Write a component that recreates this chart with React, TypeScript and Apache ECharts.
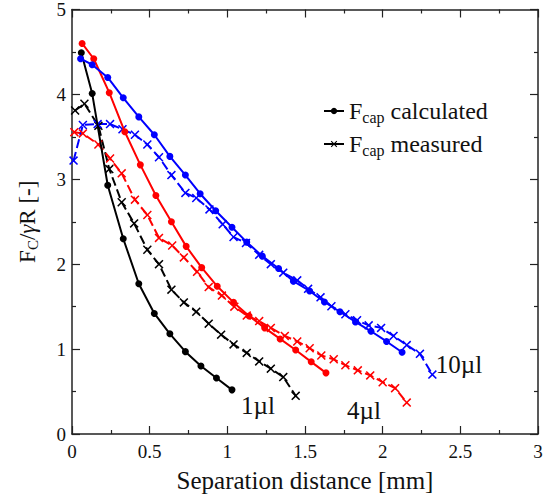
import React, { useEffect, useRef } from "react";
import * as echarts from "echarts";

const blackCalcX = [0.06, 0.13, 0.23, 0.33, 0.43, 0.53, 0.63, 0.73, 0.83, 0.93, 1.03];
const blackCalcY = [4.49, 4.01, 2.93, 2.3, 1.77, 1.42, 1.18, 0.97, 0.8, 0.66, 0.52];

const blackMeasX = [0.02, 0.08, 0.17, 0.24, 0.32, 0.4, 0.485, 0.56, 0.64, 0.72, 0.8, 0.88, 0.96, 1.04, 1.125, 1.205, 1.28, 1.36, 1.44];
const blackMeasY = [3.81, 3.89, 3.63, 3.12, 2.73, 2.48, 2.17, 2.0, 1.7, 1.55, 1.44, 1.3, 1.17, 1.055, 0.955, 0.855, 0.77, 0.67, 0.45];

const redCalcX = [0.065, 0.14, 0.24, 0.34, 0.44, 0.54, 0.64, 0.735, 0.835, 0.935, 1.04, 1.14, 1.24, 1.34, 1.44, 1.54, 1.635];
const redCalcY = [4.6, 4.42, 4.02, 3.56, 3.17, 2.81, 2.5, 2.21, 1.96, 1.74, 1.55, 1.39, 1.25, 1.12, 0.99, 0.85, 0.72];

const redMeasX = [0.015, 0.07, 0.17, 0.245, 0.32, 0.405, 0.485, 0.56, 0.645, 0.72, 0.805, 0.88, 0.965, 1.045, 1.125, 1.205, 1.28, 1.37, 1.45, 1.53, 1.605, 1.685, 1.76, 1.84, 1.92, 2.0, 2.08, 2.155];
const redMeasY = [3.555, 3.54, 3.41, 3.245, 3.07, 2.76, 2.58, 2.31, 2.22, 2.08, 1.91, 1.73, 1.63, 1.5, 1.395, 1.33, 1.25, 1.155, 1.09, 1.01, 0.925, 0.88, 0.81, 0.75, 0.69, 0.61, 0.54, 0.37];

const blueCalcX = [0.055, 0.13, 0.23, 0.33, 0.43, 0.53, 0.63, 0.73, 0.825, 0.925, 1.03, 1.125, 1.225, 1.33, 1.425, 1.53, 1.625, 1.725, 1.825, 1.925, 2.025, 2.125];
const blueCalcY = [4.42, 4.35, 4.2, 3.96, 3.735, 3.525, 3.27, 3.05, 2.83, 2.63, 2.435, 2.26, 2.095, 1.95, 1.8, 1.685, 1.555, 1.44, 1.32, 1.21, 1.09, 0.963];

const blueMeasX = [0.01, 0.07, 0.165, 0.245, 0.325, 0.405, 0.485, 0.56, 0.64, 0.73, 0.8, 0.885, 0.97, 1.04, 1.12, 1.205, 1.28, 1.36, 1.45, 1.52, 1.6, 1.67, 1.76, 1.835, 1.91, 1.99, 2.07, 2.155, 2.24, 2.32];
const blueMeasY = [3.22, 3.64, 3.65, 3.65, 3.59, 3.525, 3.41, 3.26, 3.05, 2.84, 2.78, 2.645, 2.47, 2.32, 2.25, 2.11, 2.0, 1.9, 1.81, 1.71, 1.61, 1.505, 1.41, 1.34, 1.28, 1.25, 1.155, 1.047, 0.944, 0.7];

const volumeLabels = ["1\u00b5l", "4\u00b5l", "10\u00b5l"];
const legendNames = ["Fcap calculated", "Fcap measured"];

const FONT = "Liberation Serif, Times New Roman, Times, serif";
const CROSS = "path://M0,1.2L1.2,0L5,3.8L8.8,0L10,1.2L6.2,5L10,8.8L8.8,10L5,6.2L1.2,10L0,8.8L3.8,5Z";

const zip = (xs: number[], ys: number[]) => xs.map((x, i) => [x, ys[i]]);

export default function App() {
  const ref = useRef<HTMLDivElement>(null);
  useEffect(() => {
    if (!ref.current) return;
    const chart = echarts.init(ref.current, undefined, { renderer: "svg" });

    const calc = (name: string, color: string, xs: number[], ys: number[]) => ({
      type: "line",
      name,
      data: zip(xs, ys),
      symbol: "circle",
      symbolSize: 7,
      lineStyle: { color, width: 2 },
      itemStyle: { color },
      z: 3,
    });
    const meas = (name: string, color: string, xs: number[], ys: number[]) => ({
      type: "line",
      name,
      data: zip(xs, ys),
      symbol: CROSS,
      symbolSize: 9,
      lineStyle: { color, width: 2, type: [9, 4] },
      itemStyle: { color },
      z: 2,
    });

    const axisCommon = {
      axisLine: { show: true, onZero: false, lineStyle: { color: "#222", width: 1.5 } },
      axisTick: { show: true, inside: true, length: 8, lineStyle: { color: "#222", width: 1.2 } },
      minorTick: { show: true, splitNumber: 2, length: 4, lineStyle: { color: "#222", width: 1.2 } },
      splitLine: { show: false },
      minorSplitLine: { show: false },
    };

    const labelText = (text: string, x: number, y: number) => ({
      type: "text",
      x,
      y,
      style: { text, fontFamily: FONT, fontSize: 25, fill: "#111", align: "center", verticalAlign: "middle" },
    });

    const option: any = {
      animation: false,
      backgroundColor: "#fff",
      textStyle: { fontFamily: FONT },
      grid: { left: 72, top: 8, right: 10, bottom: 54, containLabel: false },
      legend: {
        data: legendNames,
        orient: "vertical",
        left: 318,
        top: 92,
        itemWidth: 20,
        itemHeight: 8,
        itemGap: 5,
        formatter: (n: string) => (n === legendNames[0] ? "{f|F}{s|cap}{f| calculated}" : "{f|F}{s|cap}{f| measured}"),
        textStyle: {
          fontFamily: FONT,
          fontSize: 24,
          color: "#111",
          rich: {
            f: { fontFamily: FONT, fontSize: 24, lineHeight: 28, color: "#111" },
            s: { fontFamily: FONT, fontSize: 16, lineHeight: 16, padding: [12, 0, 0, 0], color: "#111" },
          },
        },
      },
      xAxis: [
        {
          type: "value",
          min: 0,
          max: 3,
          interval: 0.5,
          position: "bottom",
          name: "Separation distance [mm]",
          nameLocation: "middle",
          nameGap: 34,
          nameTextStyle: { fontFamily: FONT, fontSize: 25, color: "#111" },
          axisLabel: { fontFamily: FONT, fontSize: 19, color: "#111", margin: 8 },
          ...axisCommon,
        },
        {
          type: "value",
          min: 0,
          max: 3,
          interval: 0.5,
          position: "top",
          axisLabel: { show: false },
          ...axisCommon,
        },
      ],
      yAxis: [
        {
          type: "value",
          min: 0,
          max: 5,
          interval: 1,
          position: "left",
          name: "{a|F}{b|C}{a|/}{g|\u03b3}{a|R [-]}",
          nameLocation: "middle",
          nameGap: 32,
          nameTextStyle: {
            fontFamily: FONT,
            fontSize: 23,
            color: "#111",
            rich: {
              a: { fontFamily: FONT, fontSize: 23, color: "#111", lineHeight: 26 },
              g: { fontFamily: FONT, fontSize: 23, fontStyle: "italic", color: "#111", lineHeight: 26 },
              b: { fontFamily: FONT, fontSize: 15, color: "#111", lineHeight: 15, padding: [11, 0, 0, 0] },
            },
          },
          axisLabel: { fontFamily: FONT, fontSize: 19, color: "#111", margin: 6 },
          ...axisCommon,
        },
        {
          type: "value",
          min: 0,
          max: 5,
          interval: 1,
          position: "right",
          axisLabel: { show: false },
          ...axisCommon,
        },
      ],
      graphic: [
        labelText(volumeLabels[0], 258, 405),
        labelText(volumeLabels[1], 364, 410),
        labelText(volumeLabels[2], 459, 364),
      ],
      series: [
        calc("1ul calculated", "#000", blackCalcX, blackCalcY),
        meas("1ul measured", "#000", blackMeasX, blackMeasY),
        calc("4ul calculated", "#ff0000", redCalcX, redCalcY),
        meas("4ul measured", "#ff0000", redMeasX, redMeasY),
        calc("10ul calculated", "#0000ff", blueCalcX, blueCalcY),
        meas("10ul measured", "#0000ff", blueMeasX, blueMeasY),
        { type: "line", name: legendNames[0], data: [], symbol: "circle", symbolSize: 7, lineStyle: { color: "#000", width: 2 }, itemStyle: { color: "#000" } },
        { type: "line", name: legendNames[1], data: [], symbol: CROSS, symbolSize: 8, lineStyle: { color: "#000", width: 2 }, itemStyle: { color: "#000" } },
      ],
    };
    chart.setOption(option);
    return () => chart.dispose();
  }, []);
  return <div ref={ref} style={{ position: "fixed", left: 0, top: 0, width: 548, height: 498 }} />;
}
